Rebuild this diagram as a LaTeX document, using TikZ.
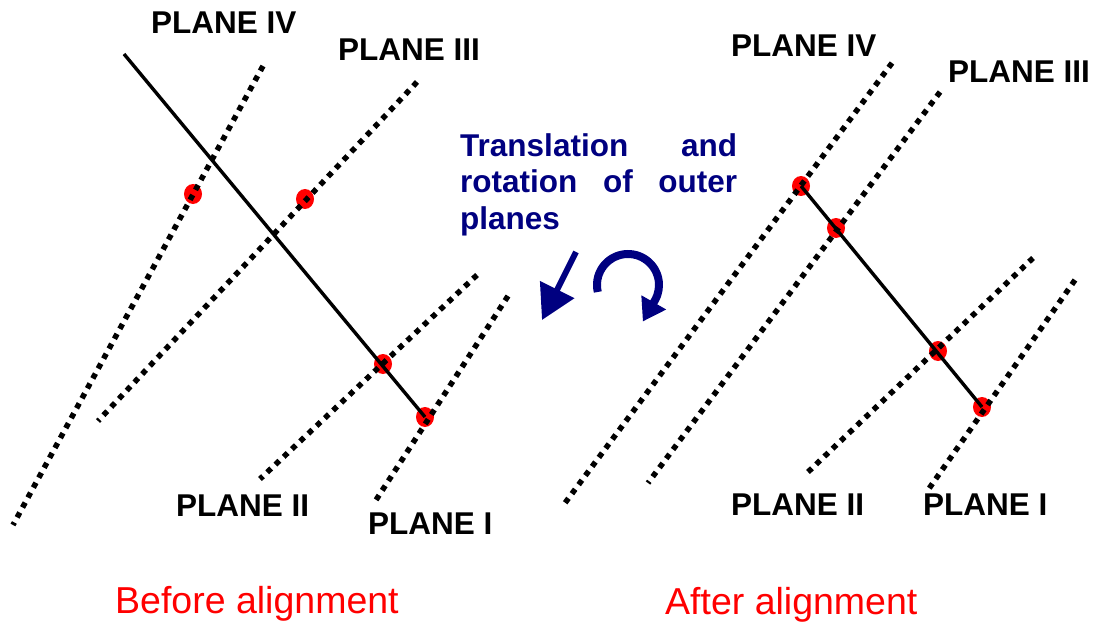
\documentclass[tikz,border=0pt]{standalone}
\usepackage{fontspec}
\setmainfont{Liberation Sans}
\usepackage{xcolor}
\usetikzlibrary{arrows.meta, shapes.geometric}

\definecolor{navyblue}{RGB}{0,0,128}

\begin{document}
\begin{tikzpicture}[
  x=1pt, y=-1pt,
  plane/.style={line width=5.5pt, dash pattern=on 5.5pt off 5.8pt},
  track/.style={line width=3.4pt},
  hit/.style={ellipse, fill=red, minimum width=18pt, minimum height=20pt, inner sep=0pt},
  tag/.style={font=\fontsize{31.5}{36}\selectfont\bfseries, inner sep=0pt, anchor=west},
  caption/.style={font=\fontsize{37.5}{44}\selectfont, text=red, inner sep=0pt, anchor=base west},
  move/.style={navyblue, line width=6pt, -{Triangle[length=34pt, width=37pt]}},
  turn/.style={navyblue, line width=8pt, -{Triangle[length=22pt, width=27pt]}},
]
\useasboundingbox (0,0) rectangle (1101,623);

% ============ LEFT: before alignment ============
\node[hit] (b4) at (193,194) {};
\node[hit] (b3) at (305,199) {};
\node[hit] (b2) at (383,364) {};
\node[hit] (b1) at (425,417) {};

\coordinate (b4top) at (263,66);   \coordinate (b4bot) at (13,525);
\coordinate (b3top) at (417,82);   \coordinate (b3bot) at (98,421);
\coordinate (b2top) at (477,275);  \coordinate (b2bot) at (260,479);
\coordinate (b1top) at (508,296);  \coordinate (b1bot) at (376,500);
\coordinate (btrk) at (124,54);

\draw[plane] (b4top) -- (b4bot);
\draw[plane] (b3top) -- (b3bot);
\draw[plane] (b2top) -- (b2bot);
\draw[plane] (b1top) -- (b1bot);
\draw[track] (btrk) -- (b1.center);

\node[tag] (lb4) at (151,23)  {PLANE IV};
\node[tag] (lb3) at (338,50)  {PLANE III};
\node[tag] (lb2) at (176,506) {PLANE II};
\node[tag] (lb1) at (368,524) {PLANE I};

\node[caption] (before) at (115,613) {Before alignment};

% ============ MIDDLE: what is done ============
\node[font=\fontsize{31.5}{36.5}\selectfont\bfseries, text=navyblue, inner sep=0pt,
  anchor=north west, text width=277pt, align=left] (note) at (460,133)
  {Translation\hfill and\\rotation\hfill of\hfill outer\\planes};

\coordinate (shift tail) at (576,252);
\coordinate (shift head) at (542,320);
\draw[move] (shift tail) -- (shift head);

\coordinate (spin) at (628,285);
\draw[turn] ([shift={(167:31)}]spin) arc[start angle=167, end angle=390, radius=31]
  -- ++(-12,21);

% ============ RIGHT: after alignment ============
\node[hit] (a4) at (801,186) {};
\node[hit] (a3) at (836,228) {};
\node[hit] (a2) at (938,351) {};
\node[hit] (a1) at (982,407) {};

\coordinate (a4top) at (892,63);   \coordinate (a4bot) at (565,503);
\coordinate (a3top) at (940,92);   \coordinate (a3bot) at (648,483);
\coordinate (a2top) at (1033,258); \coordinate (a2bot) at (808,472);
\coordinate (a1top) at (1075,280); \coordinate (a1bot) at (928,490);

\draw[plane] (a4top) -- (a4bot);
\draw[plane] (a3top) -- (a3bot);
\draw[plane] (a2top) -- (a2bot);
\draw[plane] (a1top) -- (a1bot);
\draw[track] (a4.center) -- (a1.center);

\node[tag] (la4) at (731,46)  {PLANE IV};
\node[tag] (la3) at (948,72)  {PLANE III};
\node[tag] (la2) at (731,505) {PLANE II};
\node[tag] (la1) at (923,505) {PLANE I};

\node[caption] (after) at (665,614) {After alignment};

\end{tikzpicture}
\end{document}
